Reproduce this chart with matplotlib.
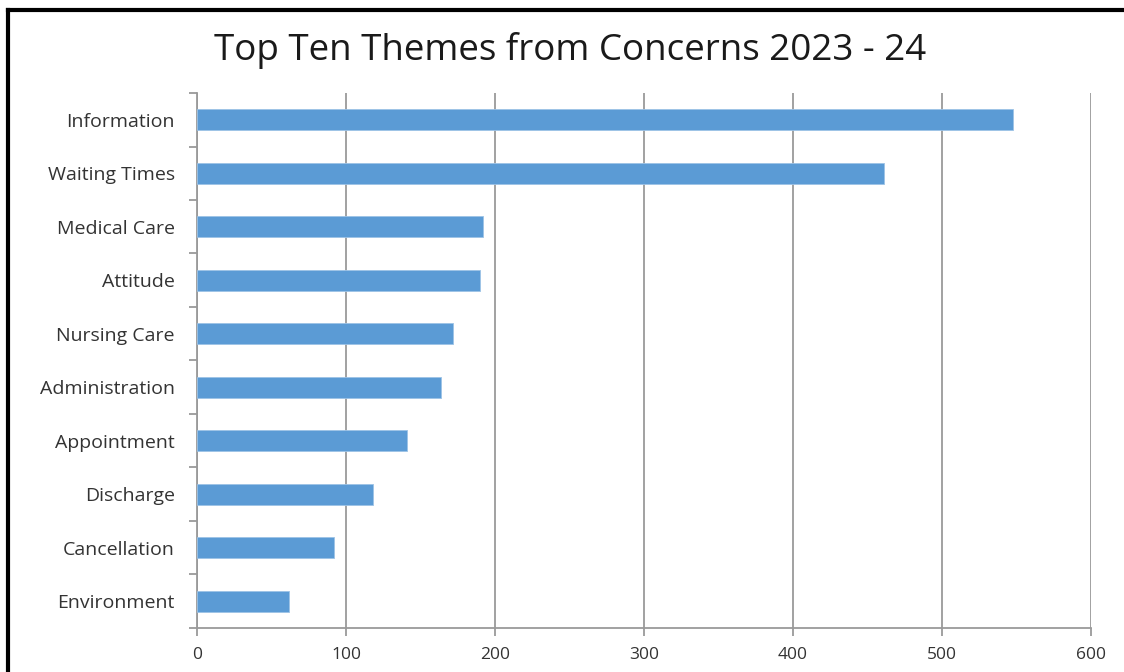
import numpy as np
import matplotlib.pyplot as plt
from matplotlib.lines import Line2D

# data
themes = ['Information', 'Waiting Times', 'Medical Care', 'Attitude', 'Nursing Care',
          'Administration', 'Appointment', 'Discharge', 'Cancellation', 'Environment']
counts = [548, 461, 192, 190, 172, 164, 141, 118, 92, 62]
x_ticks = [0, 100, 200, 300, 400, 500, 600]

plt.rcParams['font.family'] = ['Open Sans', 'DejaVu Sans']

fig = plt.figure(figsize=(11.24, 6.72), dpi=100)
ax = fig.add_axes([0.1753, 0.0655, 0.9706 - 0.1753, 0.8616 - 0.0655])

y = np.arange(len(themes))
ax.barh(y, counts, height=0.4, color='#5B9BD5', edgecolor='#9DC3E6', linewidth=0.6, zorder=3)

ax.set_ylim(len(themes) - 0.5, -0.5)
ax.set_xlim(0, 600)
ax.set_xticks(x_ticks)
ax.set_yticks(y)
ax.set_yticklabels(themes)
ax.set_yticks(np.arange(-0.5, len(themes)), minor=True)

grid_col = '#9a9a9a'
ax.grid(axis='x', color=grid_col, linewidth=1.3, zorder=0)
for s in ['top', 'right']:
    ax.spines[s].set_visible(False)
for s in ['left', 'bottom']:
    ax.spines[s].set_color(grid_col)
    ax.spines[s].set_linewidth(1.3)

ax.tick_params(axis='y', which='major', length=0, pad=16, labelsize=14, labelcolor='#333333')
ax.tick_params(axis='y', which='minor', length=6, width=1.3, color=grid_col)
ax.tick_params(axis='x', length=6, width=1.3, color=grid_col, labelsize=12.5, labelcolor='#333333', pad=8)

fig.text(0.507, 0.925, 'Top Ten Themes from Concerns 2023 - 24', ha='center', va='center',
         fontsize=26.5, color='#1a1a1a')

# black frame lines at left and top of the picture
fig.add_artist(Line2D([0.0075, 0.0075], [0, 0.985], transform=fig.transFigure, color='black', lw=3))
fig.add_artist(Line2D([0.0075, 1.0], [0.985, 0.985], transform=fig.transFigure, color='black', lw=3))

plt.savefig('out.png', dpi=100)
